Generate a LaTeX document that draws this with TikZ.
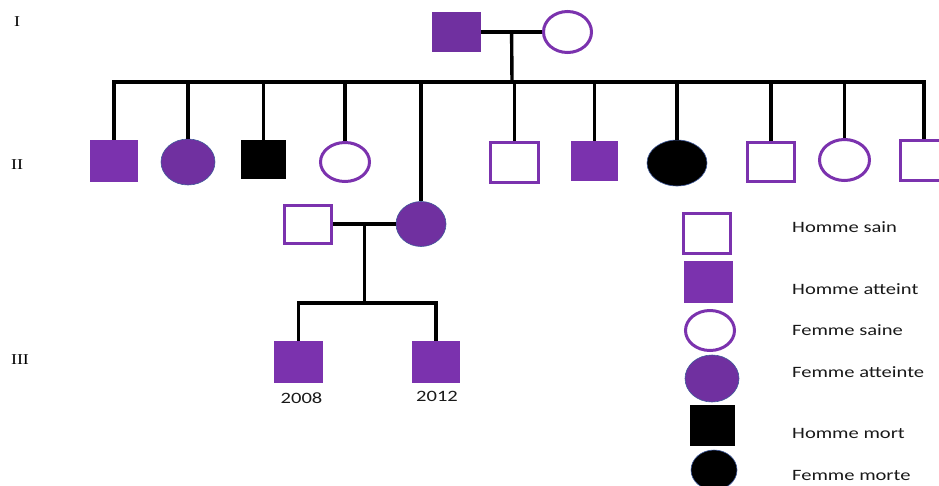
\documentclass[tikz,border=0pt]{standalone}
\usepackage{graphicx}
\usepackage{fontspec}
\setmainfont{Liberation Serif}
\newfontfamily\calibri{Carlito}
\usetikzlibrary{shapes.geometric,positioning,calc}
\definecolor{violetA}{HTML}{7B32AE}
\definecolor{violetB}{HTML}{7030A0}
\definecolor{bordB}{HTML}{3F5A9A}
\newcommand{\etire}[1]{\scalebox{1.3}[1]{#1}}

\begin{document}
\begin{tikzpicture}[x=1pt, y=-1pt,
    homme/.style={rectangle, inner sep=0pt, minimum width=48pt, minimum height=41pt},
    femme/.style={ellipse, inner sep=0pt, minimum width=52pt, minimum height=44pt},
    sain/.style={draw=violetA, line width=3pt, fill=white},
    atteint/.style={fill=violetA},
    atteinte/.style={fill=violetB, draw=bordB, line width=0.6pt},
    mort/.style={fill=black},
    morte/.style={fill=black, draw=bordB, line width=0.6pt},
    lien/.style={line width=3.4pt},
    gen/.style={inner sep=0pt, font=\fontsize{15}{15}\selectfont},
    leg/.style={anchor=west, inner sep=0pt, text=black!90, font=\calibri\fontsize{15.8}{16}\selectfont},
    annee/.style={inner sep=0pt, text=black!90, font=\calibri\fontsize{15.8}{16}\selectfont}
  ]
  \useasboundingbox (0,0) rectangle (939,485);
  \clip (0,0) rectangle (939,485);

  % generations
  \node[gen] (gI) at (17,22) {\scalebox{1.2}[1]{I}};
  \node[gen] (gII) at (17,165) {\scalebox{1.2}[1]{II}};
  \node[gen] (gIII) at (20,360) {\scalebox{1.2}[1]{III}};

  % generation I
  \node[homme, fill=violetB, minimum width=49pt, minimum height=40pt] (p1) at (456.5,32) {};
  \node[femme, sain, minimum width=48pt, minimum height=41pt] (m1) at (567.5,32) {};
  \coordinate (u1) at ($(p1.east)!.5!(m1.west)$);
  \coordinate (f1) at (512,82);
  \draw[lien] (p1.east) -- (m1.west);
  \draw[lien] (u1) -- (f1);

  % generation II
  \node[homme, atteint, minimum height=42pt] (c1) at (114,161) {};
  \node[femme, atteinte, minimum width=54pt, minimum height=46pt] (c2) at (188,162) {};
  \node[homme, mort, minimum width=45pt, minimum height=39pt] (c3) at (263.5,159.5) {};
  \node[femme, sain, minimum width=49pt, minimum height=39pt] (c4) at (345,162) {};
  \node[femme, atteinte, minimum width=50pt, minimum height=45pt] (c5) at (421,224) {};
  \node[homme, sain, minimum width=48pt, minimum height=40pt] (c6) at (514.5,162.5) {};
  \node[homme, atteint, minimum width=47pt, minimum height=40pt] (c7) at (594.5,161) {};
  \node[femme, morte, minimum width=60pt, minimum height=46pt] (c8) at (677,163) {};
  \node[homme, sain, minimum width=47pt, minimum height=39pt] (c9) at (771,161.5) {};
  \node[femme, sain, minimum width=50pt, minimum height=41pt] (c10) at (844.5,160) {};
  \node[homme, sain, minimum width=47pt, minimum height=40pt] (c11) at (924,160.5) {};

  \draw[lien] (c1.north) -- (c1.north |- f1) -- (c11.north |- f1) -- (c11.north);
  \foreach \e in {c2,c3,c4,c5,c6,c7,c8,c9,c10}
    \draw[lien] (\e.north) -- (\e.north |- f1);

  % couple II
  \node[homme, sain, minimum width=47pt, minimum height=38pt] (h2) at (308,224) {};
  \coordinate (u2) at ($(h2.east)!.5!(c5.west)$);
  \coordinate (f2) at ($(u2)+(0,79)$);
  \draw[lien] (h2.east) -- (c5.west);
  \draw[lien] (u2) -- (f2);

  % generation III
  \node[homme, atteint, minimum width=49pt, minimum height=42pt] (d1) at (298.5,362) {};
  \node[homme, atteint, minimum width=48pt, minimum height=42pt] (d2) at (436,362) {};
  \draw[lien] (d1.north) -- (d1.north |- f2) -- (d2.north |- f2) -- (d2.north);
  \node[annee, below=9pt of d1, xshift=3pt] (a1) {\etire{2008}};
  \node[annee, below=8pt of d2, xshift=1pt] (a2) {\etire{2012}};

  % legende
  \node[homme, sain, minimum width=47pt, minimum height=40pt] (l1) at (707,233.5) {};
  \node[homme, atteint, minimum width=49pt, minimum height=42pt] (l2) at (708.5,282) {};
  \node[femme, sain, minimum width=49pt, minimum height=40pt] (l3) at (710,330.5) {};
  \node[femme, atteinte, minimum width=54pt, minimum height=47pt] (l4) at (712,378.5) {};
  \node[homme, mort, minimum width=45pt, minimum height=41pt] (l5) at (712.5,425.5) {};
  \node[femme, morte, minimum width=46pt, minimum height=40pt] (l6) at (714,470) {};

  \node[leg] (t1) at (792,227) {\etire{Homme sain}};
  \node[leg] (t2) at (792,289) {\etire{Homme atteint}};
  \node[leg] (t3) at (792,330) {\etire{Femme saine}};
  \node[leg] (t4) at (792,372) {\etire{Femme atteinte}};
  \node[leg] (t5) at (792,433) {\etire{Homme mort}};
  \node[leg] (t6) at (792,475) {\etire{Femme morte}};
\end{tikzpicture}
\end{document}
